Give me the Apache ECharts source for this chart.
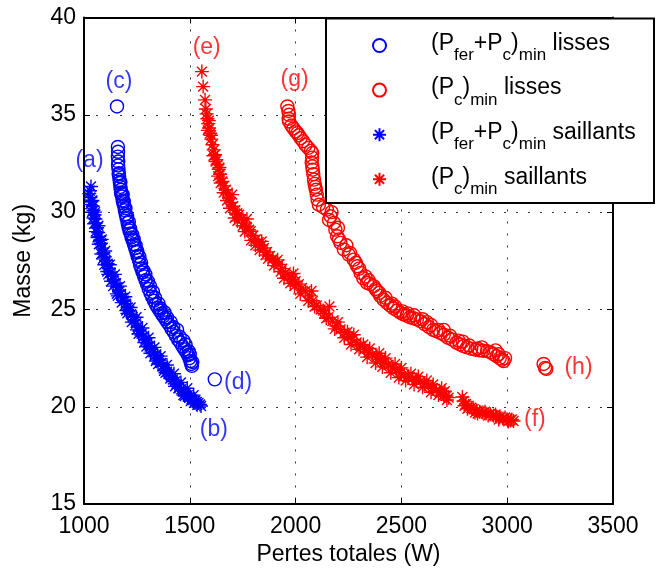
<!DOCTYPE html>
<html>
<head>
<meta charset="utf-8">
<script src="https://cdn.jsdelivr.net/npm/echarts@6/dist/echarts.min.js"></script>
<style>html,body{margin:0;padding:0;background:#fff}#c{width:661px;height:571px}</style>
</head>
<body>
<div id="c"></div>
<script>
// ---- data ----
var xTicks = [1000, 1500, 2000, 2500, 3000, 3500];
var yTicks = [15, 20, 25, 30, 35, 40];

var seriesNames = ['(Pfer+Pc)min lisses', '(Pc)min lisses', '(Pfer+Pc)min saillants', '(Pc)min saillants'];

// (Pfer+Pc)min lisses  [pertes W, masse kg]
var blueCircles = [
 [1156,35.43],
 [1160,33.35],[1161,33.1],[1160,32.85],[1162,32.6],[1161,32.4],[1163,32.2],[1165,32.0],[1166,31.85],[1168,31.65],
 [1170,31.5],[1172,31.3],[1174,31.15],[1177,30.95],[1180,30.8],[1183,30.6],[1186,30.45],[1190,30.3],[1193,30.1],
 [1197,29.9],[1201,29.7],[1206,29.45],[1210,29.25],[1215,29.05],[1220,28.9],[1225,28.7],[1230,28.55],[1236,28.35],
 [1242,28.15],[1248,27.95],[1253,27.75],[1259,27.55],[1265,27.3],[1271,27.1],[1277,26.9],[1284,26.7],[1291,26.5],
 [1298,26.3],[1306,26.05],[1314,25.85],[1322,25.65],[1331,25.45],[1340,25.25],[1348,25.1],[1357,24.95],[1366,24.8],
 [1375,24.65],[1385,24.5],[1394,24.35],[1404,24.2],[1414,24.0],[1424,23.85],[1434,23.65],[1445,23.45],[1455,23.3],
 [1466,23.1],[1475,22.95],[1484,22.8],[1492,22.65],[1498,22.5],[1503,22.35],[1507,22.2],[1510,22.1],
 [1172,31.55],[1183,30.9],[1196,30.2],[1212,29.5],[1228,28.85],[1244,28.3],[1262,27.7],[1281,27.0],[1302,26.45],
 [1326,25.9],[1352,25.3],[1380,24.85],[1410,24.35],[1440,23.95],[1470,23.4],[1495,22.85],
 [1164,31.95],[1175,31.0],[1188,30.55],[1204,29.8],[1218,29.15],[1235,28.6],[1252,28.0],[1270,27.4],[1290,26.8],
 [1312,26.2],[1336,25.6],[1362,25.05],[1392,24.6],[1422,24.1],[1452,23.6],[1480,23.2],[1500,22.7],[1512,22.3],
 [1618,21.41]
];

// (Pc)min lisses
var redCircles = [
 [1961,35.43],[1966,35.2],[1969,35.0],[1967,34.8],[1969,34.66],[1980,34.45],[1990,34.3],[2000,34.15],[2008,34.06],
 [2015,33.95],[2024,33.8],[2035,33.65],[2047,33.46],[2060,33.3],[2072,33.15],[2079,33.04],[2078,32.8],[2076,32.55],
 [2079,32.35],[2081,32.18],[2084,31.95],[2087,31.67],[2090,31.45],[2093,31.3],[2096,31.15],[2100,30.9],[2104,30.64],
 [2110,30.38],[2130,30.25],[2148,30.13],[2165,29.79],[2181,29.45],[2188,29.1],[2196,28.76],[2212,28.42],[2228,28.08],
 [2251,27.82],[2275,27.56],[2291,27.22],[2307,26.88],[2320,26.6],[2338,26.37],[2353,26.3],[2369,26.2],[2385,25.95],
 [2400,25.7],[2416,25.5],[2432,25.34],[2448,25.2],[2463,25.05],[2480,24.95],[2495,24.83],[2510,24.75],[2525,24.68],
 [2540,24.6],[2557,24.55],[2573,24.49],[2590,24.4],[2610,24.25],[2630,24.1],[2650,23.95],[2665,23.88],[2684,23.8],
 [2700,23.7],[2720,23.55],[2740,23.45],[2760,23.3],[2777,23.2],[2794,23.12],[2810,23.05],[2830,22.98],[2850,22.93],
 [2870,22.9],[2886,22.88],[2904,22.86],[2920,22.8],[2935,22.7],[2950,22.6],[2965,22.5],[2975,22.42],[2983,22.35],
 [2170,30.0],[2200,29.2],[2240,28.3],[2285,27.4],[2330,26.7],[2395,25.85],[2455,25.3],[2530,24.8],[2620,24.35],
 [2700,23.95],[2790,23.35],[2880,23.05],[2960,22.7],
 [2158,29.6],[2205,28.6],[2258,27.9],[2300,27.1],[2345,26.5],[2378,26.05],[2425,25.6],[2470,25.15],[2505,24.9],
 [2560,24.7],[2600,24.5],[2640,24.2],[2675,23.95],[2730,23.65],[2770,23.4],[2820,23.15],[2860,23.0],[2945,22.9],
 [2990,22.5],
 [3172,22.2],[3179,22.0],[3185,21.95]
];

// (Pfer+Pc)min saillants
var blueStars = [
 [1033,31.32],[1028,31.1],[1025,30.95],[1030,30.75],[1035,30.55],[1041,30.3],[1045,30.1],[1050,29.85],[1054,29.65],
 [1057,29.45],[1062,29.2],[1067,28.95],[1072,28.75],[1076,28.55],[1080,28.4],[1086,28.15],[1092,27.9],[1098,27.7],
 [1105,27.5],[1112,27.35],[1118,27.1],[1125,26.9],[1133,26.7],[1141,26.55],[1151,26.35],[1158,26.15],[1166,25.95],
 [1174,25.8],[1182,25.6],[1190,25.45],[1198,25.3],[1206,25.1],[1214,24.95],[1222,24.75],[1230,24.6],[1238,24.45],
 [1245,24.3],[1254,24.1],[1263,23.9],[1272,23.75],[1281,23.6],[1290,23.45],[1300,23.3],[1310,23.1],[1319,22.95],
 [1328,22.8],[1337,22.65],[1346,22.5],[1355,22.4],[1364,22.25],[1374,22.1],[1383,21.95],[1392,21.8],[1401,21.7],
 [1410,21.55],[1420,21.4],[1430,21.3],[1440,21.15],[1450,21.0],[1460,20.9],[1470,20.8],[1480,20.7],[1490,20.6],
 [1500,20.5],[1508,20.4],[1516,20.35],[1525,20.3],[1533,20.25],[1541,20.2],[1548,20.12],[1553,20.04],
 [1040,30.6],[1052,30.0],[1068,29.3],[1084,28.6],[1100,28.0],[1122,27.3],[1146,26.8],[1170,26.2],[1195,25.65],
 [1220,25.1],[1248,24.6],[1276,24.05],[1305,23.55],[1333,23.05],[1362,22.6],[1392,22.15],[1425,21.7],[1458,21.25],
 [1488,20.95],[1518,20.6],[1045,29.7],[1064,28.7],[1090,27.6],[1115,26.8],[1160,25.7],[1205,24.8],[1250,23.95],
 [1295,23.1],[1340,22.35],[1385,21.75],[1430,21.05],[1470,20.6],[1520,20.2],
 [1030,30.4],[1038,30.0],[1048,29.4],[1056,29.0],[1070,28.35],[1082,27.85],[1096,27.3],[1110,26.95],[1128,26.45],
 [1138,26.2],[1155,25.8],[1178,25.35],[1200,24.95],[1226,24.35],[1258,23.75],[1285,23.3],[1314,22.75],[1350,22.2],
 [1378,21.85],[1408,21.45],[1446,20.95],[1476,20.55],[1505,20.3],[1535,20.1]
];

// (Pc)min saillants
var redStars = [
 [1557,37.22],[1563,36.45],[1572,35.77],[1576,35.3],[1579,35.05],[1583,34.8],[1587,34.55],[1591,34.32],[1596,34.05],
 [1601,33.75],[1607,33.46],[1613,33.2],[1619,32.95],[1625,32.7],[1631,32.44],[1637,32.2],[1643,31.95],[1648,31.75],
 [1654,31.58],[1662,31.35],[1670,31.15],[1678,30.95],[1685,30.73],[1695,30.5],[1705,30.3],[1715,30.1],[1724,29.95],
 [1733,29.87],[1745,29.65],[1757,29.45],[1769,29.25],[1780,29.1],[1788,29.02],[1800,28.8],[1812,28.6],[1825,28.45],
 [1838,28.3],[1850,28.16],[1865,27.95],[1879,27.75],[1893,27.6],[1907,27.45],[1921,27.31],[1937,27.1],[1953,26.9],
 [1969,26.7],[1985,26.55],[2000,26.45],[2015,26.3],[2030,26.1],[2047,25.95],[2065,25.7],[2082,25.45],[2100,25.2],
 [2118,25.0],[2136,24.8],[2155,24.6],[2174,24.4],[2193,24.15],[2212,23.97],[2231,23.8],[2250,23.6],[2269,23.45],
 [2288,23.3],[2307,23.12],[2326,22.95],[2345,22.8],[2364,22.7],[2383,22.55],[2401,22.44],[2420,22.3],[2439,22.15],
 [2458,22.0],[2476,21.9],[2495,21.75],[2514,21.65],[2533,21.55],[2552,21.45],[2571,21.4],[2590,21.32],[2609,21.2],
 [2628,21.05],[2647,20.95],[2666,20.85],[2684,20.73],[2700,20.6],[2712,20.55],[2723,20.47],
 [1600,33.95],[1622,32.6],[1646,31.5],[1676,30.6],[1712,29.7],[1760,29.0],[1810,28.3],[1870,27.6],[1930,26.95],
 [1995,26.2],[2060,25.45],[2130,24.95],[2200,24.35],[2275,23.7],[2350,23.0],[2425,22.5],[2500,22.0],[2580,21.55],
 [2650,21.15],[2705,20.8],[1590,34.7],[1640,32.3],[1700,30.9],[1770,29.65],[1840,28.5],[1915,27.55],[1990,26.85],
 [2075,25.95],[2160,25.15],[2245,23.85],[2320,23.2],[2395,22.75],[2470,22.2],[2545,21.7],[2620,21.35],[2690,20.95],
 [1585,34.2],[1612,32.9],[1634,31.85],[1660,31.0],[1690,30.2],[1725,29.55],[1750,29.3],[1790,28.55],[1830,28.05],
 [1858,27.8],[1898,27.25],[1945,26.6],[1975,26.35],[2022,25.8],[2090,25.15],[2145,24.55],[2185,24.0],[2230,23.55],
 [2262,23.2],[2300,22.95],[2338,22.55],[2378,22.25],[2410,22.05],[2450,21.75],[2488,21.5],[2520,21.35],[2560,21.15],
 [2600,21.0],[2640,20.75],[2675,20.6],[2715,20.35],
 [2788,20.5],[2794,20.3],[2805,20.15],[2818,20.05],[2830,19.95],[2841,19.87],[2855,19.8],[2870,19.75],[2885,19.7],
 [2900,19.65],[2920,19.62],[2935,19.55],[2950,19.5],[2965,19.45],[2980,19.4],[2999,19.36],[3015,19.3],[3030,19.27],
 [2812,19.9],[2860,19.65],[2910,19.55],[2960,19.35],[3005,19.25],[2798,20.05],[2848,19.7],[2895,19.75],[2945,19.6],
 [2990,19.45],[3022,19.35]
];

// annotation labels
var annotLabels = ['(a)', '(b)', '(c)', '(d)', '(e)', '(f)', '(g)', '(h)'];
var annotX = [1026, 1614, 1165, 1728, 1580, 3131, 1995, 3337];
var annotY = [32.63, 18.84, 36.68, 21.22, 38.47, 19.35, 36.81, 21.99];

var BLUE = '#0000ff', RED = '#ff0000';
var FONT = '"Liberation Sans", Arial, Helvetica, sans-serif';
var STAR = 'path://M0,-10L0,10M-10,0L10,0M-7.07,-7.07L7.07,7.07M-7.07,7.07L7.07,-7.07';

var legendRich = {
  '(Pfer+Pc)min lisses': '{g| }{m|(P}{s|fer}{m|+P}{s|c}{m|)}{s|min}{m| lisses}',
  '(Pc)min lisses': '{g| }{m|(P}{s|c}{m|)}{s|min}{m| lisses}',
  '(Pfer+Pc)min saillants': '{g| }{m|(P}{s|fer}{m|+P}{s|c}{m|)}{s|min}{m| saillants}',
  '(Pc)min saillants': '{g| }{m|(P}{s|c}{m|)}{s|min}{m| saillants}'
};

function scatter(name, data, color, symbol, size) {
  return {
    name: name, type: 'scatter', data: data, symbol: symbol, symbolSize: size,
    itemStyle: { color: 'rgba(0,0,0,0)', borderColor: color, borderWidth: 1.4, opacity: 1 },
    emphasis: { disabled: true }, z: 2
  };
}

var annotData = annotLabels.map(function (t, i) {
  return { value: [annotX[i], annotY[i]], name: t,
    label: { color: i < 4 ? BLUE : RED } };
});

var axisCommon = {
  axisLine: { show: true, onZero: false, lineStyle: { color: '#000', width: 2 } },
  axisTick: { show: true, inside: true, length: 6, lineStyle: { color: '#000', width: 1 } }
};

var chart = echarts.init(document.getElementById('c'), null, { renderer: 'canvas' });
chart.setOption({
  animation: false,
  backgroundColor: '#fff',
  textStyle: { fontFamily: FONT },
  grid: { left: 84, top: 17.5, width: 529, height: 488, containLabel: false },
  xAxis: [
    Object.assign({
      type: 'value', position: 'bottom', min: xTicks[0], max: xTicks[xTicks.length - 1], interval: 500,
      axisLabel: { fontSize: 23, color: '#000', margin: 11, fontFamily: FONT,
        formatter: function (v) { return String(v); } },
      splitLine: { show: true, lineStyle: { type: [2, 10], color: '#333', width: 1 } },
      name: 'Pertes totales (W)', nameLocation: 'middle', nameGap: 34,
      nameTextStyle: { fontSize: 23, color: '#000', fontFamily: FONT }
    }, axisCommon),
    Object.assign({
      type: 'value', position: 'top', min: xTicks[0], max: xTicks[xTicks.length - 1], interval: 500,
      axisLabel: { show: false }, splitLine: { show: false }
    }, axisCommon)
  ],
  yAxis: [
    Object.assign({
      type: 'value', position: 'left', min: yTicks[0], max: yTicks[yTicks.length - 1], interval: 5,
      axisLabel: { fontSize: 23, color: '#000', margin: 8, fontFamily: FONT },
      splitLine: { show: true, lineStyle: { type: [2, 10], color: '#333', width: 1 } },
      name: 'Masse (kg)', nameLocation: 'middle', nameGap: 49,
      nameTextStyle: { fontSize: 23, color: '#000', fontFamily: FONT }
    }, axisCommon),
    Object.assign({
      type: 'value', position: 'right', min: yTicks[0], max: yTicks[yTicks.length - 1], interval: 5,
      axisLabel: { show: false }, splitLine: { show: false }
    }, axisCommon)
  ],
  graphic: [{
    type: 'rect', z: 50, left: 325, top: 17.5,
    shape: { x: 0, y: 0, width: 328, height: 184.5 },
    style: { fill: '#fff', stroke: '#000', lineWidth: 2 }
  }],
  legend: {
    orient: 'vertical', left: 372, top: 27, padding: 0, itemGap: 7.6,
    itemWidth: 13, itemHeight: 13, z: 60, selectedMode: false,
    data: seriesNames,
    formatter: function (n) { return legendRich[n]; },
    textStyle: {
      rich: {
        g: { width: 40, fontSize: 22, lineHeight: 26 },
        m: { fontSize: 23, lineHeight: 26, color: '#000', fontFamily: FONT, padding: [0, 0, 4, 0] },
        s: { fontSize: 17, lineHeight: 18, color: '#000', fontFamily: FONT, padding: [20, 0, 0, 0] }
      }
    }
  },
  series: [
    scatter(seriesNames[0], blueCircles, BLUE, 'circle', 13),
    scatter(seriesNames[1], redCircles, RED, 'circle', 13),
    scatter(seriesNames[2], blueStars, BLUE, STAR, 14),
    scatter(seriesNames[3], redStars, RED, STAR, 14),
    {
      name: 'annotations', type: 'scatter', data: annotData, symbolSize: 0, silent: true, z: 5,
      label: { show: true, position: 'inside', formatter: '{b}', fontSize: 23, fontFamily: FONT }
    }
  ]
});
</script>
</body>
</html>
